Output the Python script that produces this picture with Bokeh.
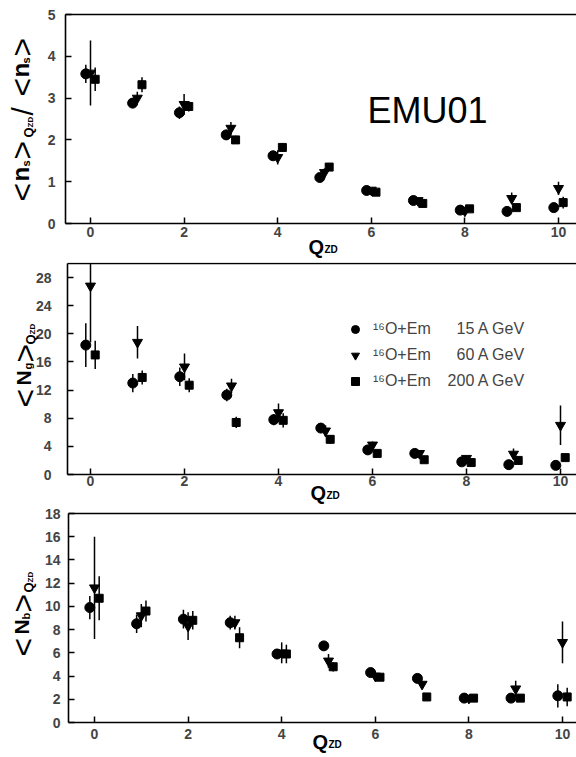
import numpy as np
from math import pi
from bokeh.plotting import figure
from bokeh.layouts import column
from bokeh.models import (ColumnDataSource, Label, LinearAxis, FixedTicker,
                          Legend, LegendItem, Range1d)
from bokeh.embed import file_html
from bokeh.resources import INLINE

# ---------------- data ----------------
q_zd = [0, 1, 2, 3, 4, 5, 6, 7, 8, 9, 10]
x_ticks = [0, 2, 4, 6, 8, 10]

# panel 1: <n_s>_QZD / <n_s>
ns_15 = [3.58, 2.88, 2.65, 2.12, 1.62, 1.10, 0.79, 0.55, 0.32, 0.29, 0.38]
ns_15_err = [0.22, 0.12, 0.15, 0.12, 0.08, 0.07, 0.05, 0.04, 0.04, 0.04, 0.05]
ns_60 = [3.60, 3.00, 2.85, 2.28, 1.58, 1.22, 0.80, 0.55, 0.30, 0.60, 0.84]
ns_60_err = [0.78, 0.15, 0.25, 0.15, 0.17, 0.10, 0.05, 0.04, 0.10, 0.14, 0.16]
ns_200 = [3.45, 3.32, 2.80, 2.00, 1.82, 1.35, 0.75, 0.48, 0.35, 0.38, 0.50]
ns_200_err = [0.28, 0.18, 0.12, 0.10, 0.10, 0.08, 0.05, 0.05, 0.04, 0.05, 0.14]

# panel 2: <N_g>_QZD
ng_15 = [18.4, 13.0, 13.9, 11.3, 7.8, 6.6, 3.5, 3.0, 1.8, 1.4, 1.3]
ng_15_err = [3.1, 1.3, 1.3, 0.9, 0.8, 0.7, 0.4, 0.3, 0.3, 0.3, 0.3]
ng_60 = [26.8, 18.8, 15.3, 12.6, 8.8, 6.2, 4.2, 3.0, 2.3, 2.9, 7.0]
ng_60_err = [8.0, 2.3, 1.9, 1.0, 1.3, 0.8, 0.5, 0.3, 0.3, 0.8, 2.8]
ng_200 = [17.0, 13.8, 12.7, 7.4, 7.7, 5.0, 3.0, 2.1, 1.7, 2.0, 2.4]
ng_200_err = [2.0, 1.0, 1.0, 0.8, 1.0, 0.6, 0.3, 0.3, 0.3, 0.4, 0.4]

# panel 3: <N_b>_QZD
nb_15 = [9.9, 8.5, 8.9, 8.6, 5.9, 6.6, 4.3, 3.8, 2.1, 2.1, 2.3]
nb_15_err = [1.0, 0.8, 0.8, 0.6, 0.4, 0.4, 0.3, 0.3, 0.2, 0.3, 1.0]
nb_60 = [11.6, 9.2, 8.3, 8.6, 6.0, 5.3, 4.0, 3.3, 2.1, 2.9, 6.9]
nb_60_err = [4.4, 1.0, 1.2, 0.6, 0.9, 0.6, 0.4, 0.3, 0.2, 0.7, 1.8]
nb_200 = [10.7, 9.6, 8.8, 7.3, 5.9, 4.8, 3.9, 2.2, 2.1, 2.1, 2.2]
nb_200_err = [1.9, 0.9, 0.8, 0.9, 0.8, 0.4, 0.3, 0.2, 0.2, 0.3, 0.8]

legend_labels = ["\u00b9\u2076O+Em\u2002\u2007\u200715 A GeV",
                 "\u00b9\u2076O+Em\u2002\u2007\u200760 A GeV",
                 "\u00b9\u2076O+Em\u2002\u2007200 A GeV"]

FONT = "Liberation Sans"
MARKERS = [("circle", -0.1, 10), ("inverted_triangle", 0.0, 10), ("square", 0.1, 8)]


def style_axis(ax, ticks, stand, bounds, loc):
    ax.ticker = FixedTicker(ticks=ticks)
    ax.fixed_location = loc
    ax.bounds = bounds
    ax.axis_line_width = 1.6
    ax.major_tick_in = 6
    ax.major_tick_out = 0
    ax.major_tick_line_width = 1.5
    ax.minor_tick_line_color = None
    ax.major_label_text_font = FONT
    ax.major_label_text_font_size = "14px"
    ax.major_label_text_font_style = "bold"
    ax.major_label_standoff = stand


def make_panel(series, page_top, fig_h, axis_px, zero_px, ppx, T, H, ymax,
               yticks, ystand, xstand):
    ppy = H / ymax
    x0 = -zero_px / ppx
    x1 = (576 - zero_px) / ppx
    y0 = -(fig_h - T - H) / ppy
    y1 = ymax + T / ppy
    xa = (axis_px - zero_px) / ppx
    p = figure(width=576, height=fig_h, output_backend="svg",
               toolbar_location=None, x_range=Range1d(x0, x1),
               y_range=Range1d(y0, y1), min_border=0, min_border_left=0,
               min_border_right=0, min_border_top=0, min_border_bottom=0)
    p.outline_line_color = None
    p.grid.visible = False
    p.background_fill_color = "white"
    style_axis(p.xaxis[0], x_ticks, xstand, (xa, x1), 0)
    style_axis(p.yaxis[0], yticks, ystand, (0, ymax), xa)
    top = LinearAxis(ticker=FixedTicker(ticks=[]), axis_line_width=1.6,
                     major_tick_line_color=None, minor_tick_line_color=None,
                     major_label_text_font_size="0px", major_label_standoff=0,
                     fixed_location=ymax, bounds=(xa, x1))
    p.add_layout(top, "above")

    renderers = []
    for (vals, errs), (marker, off, size) in zip(series, MARKERS):
        xs = np.array(q_zd, dtype=float) + off
        v = np.array(vals)
        e = np.array(errs)
        src = ColumnDataSource(dict(x=xs, y=v, lo=v - e,
                                    hi=np.minimum(v + e, ymax)))
        p.segment(x0="x", y0="lo", x1="x", y1="hi", source=src,
                  line_color="black", line_width=1.5)
        r = p.scatter(x="x", y="y", source=src, marker=marker, size=size,
                      fill_color="black", line_color="black")
        renderers.append(r)

    def conv(px, py):
        return x0 + px / ppx, y1 - (py - page_top) / ppy

    return p, renderers, conv


def add_text(p, conv, text, px, py, size, angle=0.0, bold=True,
             align="left", baseline="alphabetic", font=FONT):
    x, y = conv(px, py)
    p.add_layout(Label(x=x, y=y, text=text, angle=angle, text_align=align,
                       text_baseline=baseline, text_font=font,
                       text_font_size=f"{size}px", text_color="black",
                       text_font_style="bold" if bold else "normal"))


def vlabel(p, conv, pieces, dx):
    for text, bx, sy, size, bold in pieces:
        add_text(p, conv, text, bx + dx, sy, size, angle=pi / 2, bold=bold)


def qzd(p, conv, qx, qy):
    add_text(p, conv, "Q", qx, qy, 20)
    add_text(p, conv, "ZD", qx + 16, qy + 3, 10)


# page layout (pixels from top of page)
P1_TOP, P2_TOP, P3_TOP, PAGE_BOTTOM = 0, 262, 507, 757

# ---------- panel 1 ----------
p1, r1, c1 = make_panel([(ns_15, ns_15_err), (ns_60, ns_60_err), (ns_200, ns_200_err)],
                        P1_TOP, P2_TOP - P1_TOP, 65, 90, 46.8, 14 - P1_TOP, 209, 5,
                        [0, 1, 2, 3, 4, 5], 10, 3)
vlabel(p1, c1, [("<", 30, 201, 32, False), ("n", 29, 181, 24, True),
                ("s", 34, 166, 11, True), (">", 30, 159, 32, False),
                ("Q", 37, 137, 13, True), ("ZD", 39, 127, 8, True),
                ("/", 31, 115, 30, False), ("<", 30, 96, 32, False),
                ("n", 29, 77, 24, True), ("s", 34, 63, 11, True),
                (">", 30, 56, 32, False)], -9)
qzd(p1, c1, 308, 246)
add_text(p1, c1, "EMU01", 427, 110, 36, bold=False, align="center", baseline="middle")

# ---------- panel 2 ----------
P2_H = P3_TOP - P2_TOP
p2, r2, c2 = make_panel([(ng_15, ng_15_err), (ng_60, ng_60_err), (ng_200, ng_200_err)],
                        P2_TOP, P2_H, 67, 90, 47.0, 263 - P2_TOP, 211, 30,
                        [0, 4, 8, 12, 16, 20, 24, 28], 16, 1)
vlabel(p2, c2, [("<", 35, 407, 32, False), ("N", 34, 385, 21, True),
                ("g", 38, 369, 11, True), (">", 35, 362, 32, False),
                ("Q", 41, 344, 13, True), ("ZD", 43, 334, 8, True)], -11)
qzd(p2, c2, 310, 492)
legend_top = 319  # page y of the legend's upper edge
legend = Legend(items=[LegendItem(label=lab, renderers=[r]) for lab, r in zip(legend_labels, r2)],
                location=(345, P3_TOP - (legend_top + 72)), border_line_color=None,
                background_fill_alpha=0, padding=0, margin=0, spacing=6,
                glyph_height=20, glyph_width=20, label_height=20, label_standoff=8,
                label_text_font=FONT, label_text_font_size="16px")
p2.add_layout(legend)

# ---------- panel 3 ----------
p3, r3, c3 = make_panel([(nb_15, nb_15_err), (nb_60, nb_60_err), (nb_200, nb_200_err)],
                        P3_TOP, PAGE_BOTTOM - P3_TOP, 68, 94, 46.8, 513 - P3_TOP, 209, 18,
                        [0, 2, 4, 6, 8, 10, 12, 14, 16, 18], 8, 6)
vlabel(p3, c3, [("<", 33, 656, 32, False), ("N", 32, 634, 21, True),
                ("b", 36, 619, 11, True), (">", 33, 612, 32, False),
                ("Q", 39, 592, 13, True), ("ZD", 41, 582, 8, True)], -11)
qzd(p3, c3, 312, 741)

layout = column(p1, p2, p3, spacing=0)
open("out.html", "w").write(file_html(layout, INLINE))
